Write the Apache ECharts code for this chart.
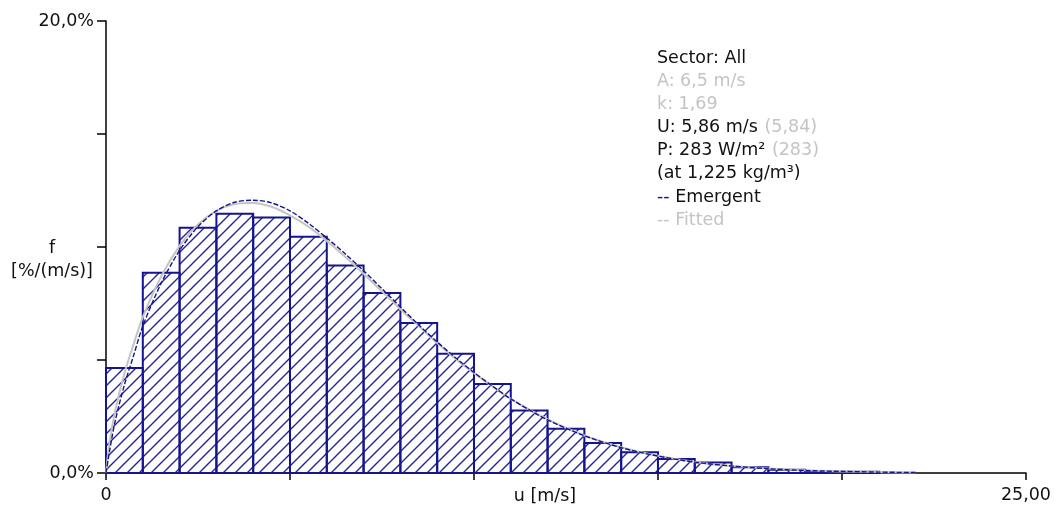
<!DOCTYPE html>
<html>
<head>
<meta charset="utf-8">
<script src="https://cdn.jsdelivr.net/npm/echarts@6/dist/echarts.min.js"></script>
<style>html,body{margin:0;padding:0;background:#fff}#c{width:1054px;height:505px}</style>
</head>
<body>
<div id="c"></div>
<script>
// Histogram bins (lower edge, m/s), width 1 m/s
const binStarts = [0,1,2,3,4,5,6,7,8,9,10,11,12,13,14,15,16,17,18,19,20,21];
const binValues = [4.65,8.86,10.85,11.47,11.31,10.45,9.18,7.97,6.64,5.28,3.94,2.77,1.96,1.33,0.92,0.62,0.46,0.25,0.14,0.06,0.05,0];

// Curve sample positions (m/s)
const curveU = [0,0.1,0.25,0.5,0.75,1,1.5,2,2.5,3,3.5,4,4.5,5,5.5,6,6.5,7,7.5,8,8.5,9,9.5,10,10.5,11,12,13,14,15,16,17,18,19,20,21,22];
// Emergent curve (%/(m/s))
const emergentF = [0,1.0,2.3,3.9,5.2,6.5,8.4,9.85,10.9,11.6,11.98,12.07,11.95,11.6,11.05,10.4,9.7,8.95,8.15,7.35,6.55,5.8,5.1,4.45,3.85,3.28,2.35,1.65,1.12,0.75,0.48,0.31,0.19,0.11,0.07,0.04,0.02];
// Fitted curve (%/(m/s))
const fittedF = [0,1.4,2.75,4.4,5.7,6.9,8.7,10.05,11.0,11.6,11.9,11.95,11.78,11.4,10.9,10.27,9.57,8.82,8.03,7.25,6.5,5.75,5.05,4.42,3.83,3.28,2.37,1.66,1.14,0.76,0.49,0.31,0.2,0.12,0.07,0.04,0.02];

// Axis tick labels
const xTickLabels = {0: '0', 25: '25,00'};
const yTickLabels = {0: '0,0%', 20: '20,0%'};

const NAVY = '#14148c';

const P = 12;
const pat = document.createElement('canvas');
pat.width = P; pat.height = P;
const pc = pat.getContext('2d');
pc.strokeStyle = '#2222a0';
pc.lineWidth = 1.4;
pc.beginPath();
pc.moveTo(-1, P + 1); pc.lineTo(P + 1, -1);
pc.moveTo(-1, 1); pc.lineTo(1, -1);
pc.moveTo(P - 1, P + 1); pc.lineTo(P + 1, P - 1);
pc.stroke();

const barData = binStarts.map((s, i) => [s, s + 1, binValues[i]]);
const emergentData = curveU.map((u, i) => [u, emergentF[i]]);
const fittedData = curveU.map((u, i) => [u, fittedF[i]]);

const chart = echarts.init(document.getElementById('c'), null, {renderer: 'canvas'});
const FONT = 'DejaVu Sans';
const labelStyle = {fontFamily: FONT, fontSize: 17.5, color: '#111'};
const F = '17.5px "DejaVu Sans"';

chart.setOption({
  animation: false,
  backgroundColor: '#fff',
  grid: {left: 106, right: 26, top: 21, bottom: 32, containLabel: false},
  xAxis: {
    type: 'value', min: 0, max: 25, interval: 5,
    axisLine: {lineStyle: {color: '#000', width: 1.5}},
    axisTick: {length: 7, lineStyle: {color: '#000', width: 1.5}},
    splitLine: {show: false},
    axisLabel: Object.assign({
      margin: 13,
      formatter: v => (xTickLabels[v] !== undefined ? xTickLabels[v] : ''),
      showMinLabel: true, showMaxLabel: true
    }, labelStyle)
  },
  yAxis: {
    type: 'value', min: 0, max: 20, interval: 5,
    axisLine: {show: true, lineStyle: {color: '#000', width: 1.5}},
    axisTick: {show: true, length: 9, lineStyle: {color: '#000', width: 1.5}},
    splitLine: {show: false},
    axisLabel: Object.assign({
      margin: 12,
      formatter: v => (yTickLabels[v] !== undefined ? yTickLabels[v] : ''),
      showMinLabel: true, showMaxLabel: true
    }, labelStyle)
  },
  series: [
    {
      type: 'custom',
      data: barData,
      encode: {x: [0, 1], y: 2},
      renderItem: function (params, api) {
        const x0 = api.value(0), x1 = api.value(1), v = api.value(2);
        if (!(v > 0)) return null;
        const p0 = api.coord([x0, v]);
        const p1 = api.coord([x1, 0]);
        return {
          type: 'rect',
          shape: {x: p0[0], y: p0[1], width: p1[0] - p0[0], height: p1[1] - p0[1]},
          style: {fill: {image: pat, repeat: 'repeat'}, stroke: NAVY, lineWidth: 2}
        };
      },
      z: 1
    },
    {
      type: 'line', data: fittedData, smooth: 0.3, symbol: 'none',
      lineStyle: {color: '#c4c4c4', width: 2}, z: 2
    },
    {
      type: 'line', data: emergentData, smooth: 0.3, symbol: 'none',
      lineStyle: {color: NAVY, width: 1.4, type: [5, 2]}, z: 3
    }
  ],
  graphic: [
    {type: 'text', x: 52, y: 248, style: {text: 'f', font: F, fill: '#111', align: 'center', verticalAlign: 'middle'}},
    {type: 'text', x: 52, y: 271, style: {text: '[%/(m/s)]', font: F, fill: '#111', align: 'center', verticalAlign: 'middle'}},
    {type: 'text', x: 545, y: 496, style: {text: 'u [m/s]', font: F, fill: '#111', align: 'center', verticalAlign: 'middle'}},
    {type: 'text', x: 657, y: 58, style: {text: 'Sector: All', font: F, fill: '#111', verticalAlign: 'middle'}},
    {type: 'text', x: 657, y: 81, style: {text: 'A: 6,5 m/s', font: F, fill: '#c4c4c4', verticalAlign: 'middle'}},
    {type: 'text', x: 657, y: 104, style: {text: 'k: 1,69', font: F, fill: '#c4c4c4', verticalAlign: 'middle'}},
    {type: 'text', x: 657, y: 127, style: {
      text: '{a|U: 5,86 m/s}  {b|(5,84)}', verticalAlign: 'middle',
      rich: {a: {font: F, fill: '#111'}, b: {font: F, fill: '#c4c4c4'}}
    }},
    {type: 'text', x: 657, y: 150, style: {
      text: '{a|P: 283 W/m²}  {b|(283)}', verticalAlign: 'middle',
      rich: {a: {font: F, fill: '#111'}, b: {font: F, fill: '#c4c4c4'}}
    }},
    {type: 'text', x: 657, y: 173, style: {text: '(at 1,225 kg/m³)', font: F, fill: '#111', verticalAlign: 'middle'}},
    {type: 'text', x: 657, y: 197, style: {
      text: '{a|--}{b| Emergent}', verticalAlign: 'middle',
      rich: {a: {font: F, fill: NAVY}, b: {font: F, fill: '#111'}}
    }},
    {type: 'text', x: 657, y: 220, style: {text: '-- Fitted', font: F, fill: '#c4c4c4', verticalAlign: 'middle'}}
  ]
});
</script>
</body>
</html>
